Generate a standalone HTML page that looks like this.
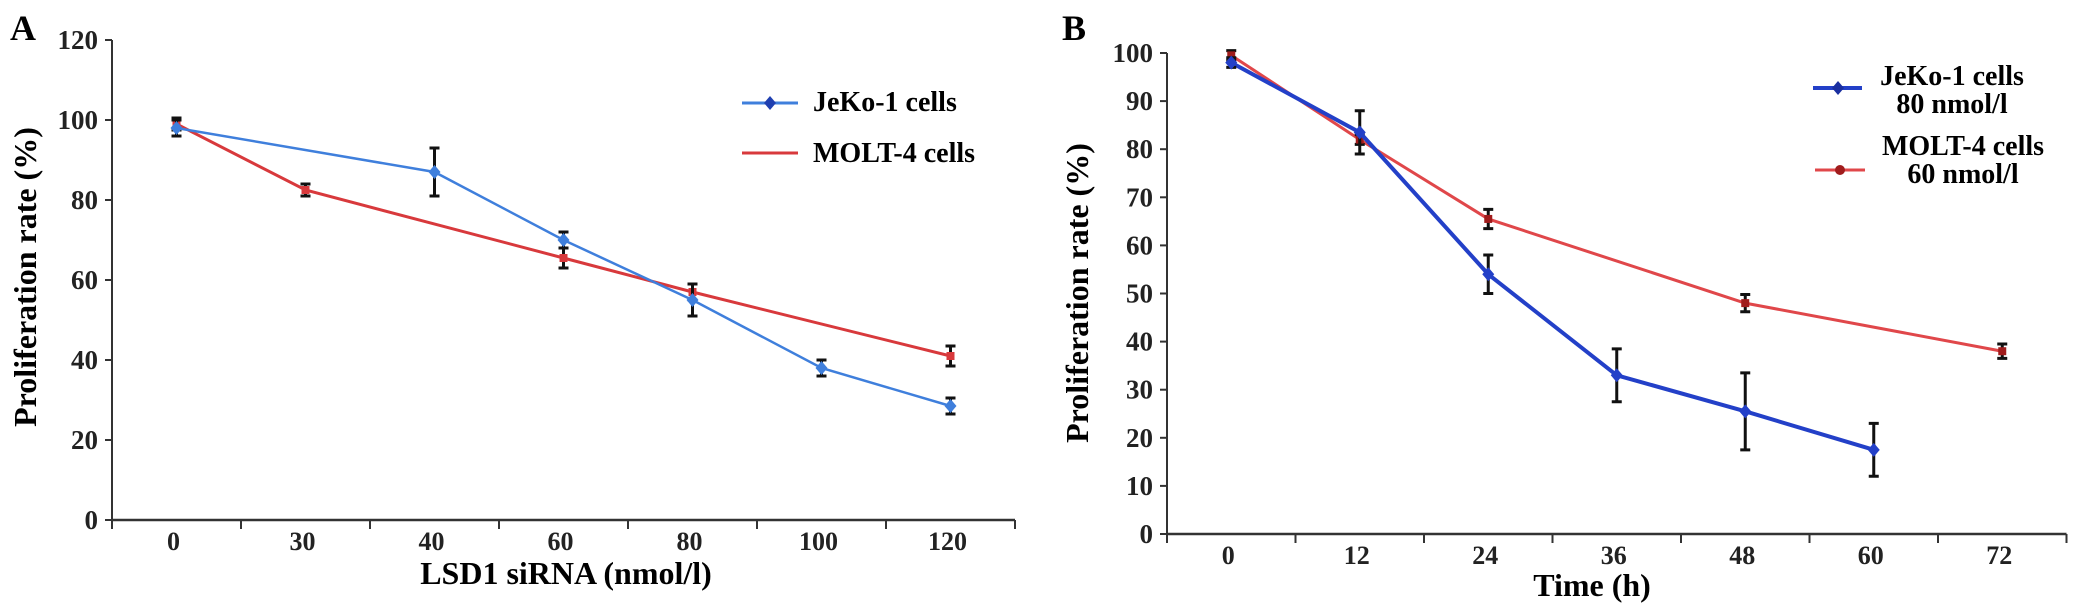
<!DOCTYPE html>
<html><head><meta charset="utf-8"><style>
html,body{margin:0;padding:0;background:#fff;}
svg{display:block;font-family:"Liberation Serif",serif;font-weight:bold;}
</style></head><body>
<svg id="fig" width="2087" height="613" viewBox="0 0 2087 613" xmlns="http://www.w3.org/2000/svg" style="position:absolute;left:0;top:0"></svg>
<script>
// Panel A data
const aCats = ["0","30","40","60","80","100","120"];
const aYTicks = [0,20,40,60,80,100,120];
const aJekoIdx = [0,2,3,4,5,6];
const aJekoVal = [98,87,70,55,38,28.5];
const aJekoErr = [2,6,2,4,2,2];
const aMoltIdx = [0,1,3,4,6];
const aMoltVal = [99,82.5,65.5,57,41];
const aMoltErr = [1.5,1.5,2.5,2,2.5];
// Panel B data
const bCats = ["0","12","24","36","48","60","72"];
const bYTicks = [0,10,20,30,40,50,60,70,80,90,100];
const bJekoIdx = [0,1,2,3,4,5];
const bJekoVal = [98,83.5,54,33,25.5,17.5];
const bJekoErr = [1,4.5,4,5.5,8,5.5];
const bMoltIdx = [0,1,2,4,6];
const bMoltVal = [99.5,82,65.5,48,38];
const bMoltErr = [1,1,2,1.8,1.5];

const NS="http://www.w3.org/2000/svg";
const svg=document.getElementById('fig');
function mk(tag,attrs,parent){const e=document.createElementNS(NS,tag);for(const k in attrs)e.setAttribute(k,attrs[k]);(parent||svg).appendChild(e);return e;}

function panel(cfg){
  const g=mk('g',{});
  
  
  const X=i=>cfg.x0+cfg.step*(i+0.5);
  const Y=v=>cfg.y0-(v/cfg.ymax)*(cfg.y0-cfg.ytop);
  const ax='#333';
  const yl=mk('line',{x1:cfg.x0,y1:Y(cfg.ymax),x2:cfg.x0,y2:cfg.y0,stroke:ax,'stroke-width':2},g);
  
  
  const xl=mk('line',{x1:cfg.x0,y1:cfg.y0,x2:cfg.x0+cfg.step*cfg.cats.length,y2:cfg.y0,stroke:ax,'stroke-width':2.5},g);
  
  
  cfg.yticks.forEach(v=>{
    mk('line',{x1:cfg.x0-7,y1:Y(v),x2:cfg.x0,y2:Y(v),stroke:ax,'stroke-width':2},g);
    const t=mk('text',{x:cfg.x0-14,y:Y(v)+9,'text-anchor':'end','font-size':27,fill:'#222'},g);
    t.textContent=v;
    
    
  });
  for(let i=0;i<=cfg.cats.length;i++){
    const tx=cfg.x0+cfg.step*i;
    mk('line',{x1:tx,y1:cfg.y0,x2:tx,y2:cfg.y0+9,stroke:ax,'stroke-width':2},g);
  }
  cfg.cats.forEach((c,i)=>{
    const t=mk('text',{x:X(i)-3,y:cfg.y0+30,'text-anchor':'middle','font-size':26,fill:'#222'},g);
    t.textContent=c;
    
    
  });
  cfg.series.forEach(s=>{
    const pts=s.idx.map((ci,k)=>X(ci)+','+Y(s.val[k])).join(' ');
    const pl=mk('polyline',{points:pts,fill:'none',stroke:s.color,'stroke-width':s.w},g);
    
    
    s.idx.forEach((ci,k)=>{
      const x=X(ci),v=s.val[k],e=s.err[k];
      const eb=mk('path',{d:`M${x},${Y(v+e)}V${Y(v-e)}M${x-5},${Y(v+e)}H${x+5}M${x-5},${Y(v-e)}H${x+5}`,stroke:'#111','stroke-width':3,fill:'none'},g);
      
      
      const m=s.marker==='diamond'
        ? mk('path',{d:`M${x},${Y(v)-7}L${x+6},${Y(v)}L${x},${Y(v)+7}L${x-6},${Y(v)}Z`,fill:s.color},g)
        : mk('rect',{x:x-4,y:Y(v)-4,width:8,height:8,fill:s.mcolor||s.color},g);
      
      
    });
  });
  return g;
}

panel({name:'panel-a',x0:112,step:129,y0:520,ytop:40,ymax:120,yticks:aYTicks,cats:aCats,
  series:[
    {name:'molt4',idx:aMoltIdx,val:aMoltVal,err:aMoltErr,color:'#d8393c',w:3,marker:'square'},
    {name:'jeko1',idx:aJekoIdx,val:aJekoVal,err:aJekoErr,color:'#3f7fdc',w:2.5,marker:'diamond'}
  ]});
panel({name:'panel-b',x0:1167,step:128.5,y0:534,ytop:53,ymax:100,yticks:bYTicks,cats:bCats,
  series:[
    {name:'molt4',idx:bMoltIdx,val:bMoltVal,err:bMoltErr,color:'#e0474a',w:3,marker:'square',mcolor:'#a01c1c'},
    {name:'jeko1',idx:bJekoIdx,val:bJekoVal,err:bJekoErr,color:'#2340c8',w:4,marker:'diamond'}
  ]});
</script>
<svg width="2087" height="613" style="position:absolute;left:0;top:0;pointer-events:none" xmlns="http://www.w3.org/2000/svg">
  <text x="10" y="40" font-size="36" font-weight="bold" font-family="Liberation Serif, serif">A</text>
  <text x="1062" y="40" font-size="36" font-weight="bold" font-family="Liberation Serif, serif">B</text>
  <text x="566" y="584" text-anchor="middle" font-size="32" font-weight="bold" font-family="Liberation Serif, serif">LSD1 siRNA (nmol/l)</text>
  <text transform="translate(36,277) rotate(-90)" text-anchor="middle" font-size="32" font-weight="bold" font-family="Liberation Serif, serif">Proliferation rate (%)</text>
  <text x="1592" y="596" text-anchor="middle" font-size="32" font-weight="bold" font-family="Liberation Serif, serif">Time (h)</text>
  <text transform="translate(1088,293) rotate(-90)" text-anchor="middle" font-size="32" font-weight="bold" font-family="Liberation Serif, serif">Proliferation rate (%)</text>
  <g font-family="Liberation Serif, serif" font-weight="bold" font-size="28">
    <line x1="742" y1="103" x2="798" y2="103" stroke="#3f7fdc" stroke-width="3"/>
    <path d="M770,96L776,103L770,110L764,103Z" fill="#1f3fb0"/>
    <text x="813" y="111">JeKo-1 cells</text>
    <line x1="742" y1="153" x2="798" y2="153" stroke="#d8393c" stroke-width="3"/>
    <text x="813" y="162">MOLT-4 cells</text>
  </g>
  <g font-family="Liberation Serif, serif" font-weight="bold" font-size="28" text-anchor="middle">
    <line x1="1813" y1="88" x2="1862" y2="88" stroke="#2340c8" stroke-width="4"/>
    <path d="M1838,81L1844,88L1838,95L1832,88Z" fill="#1a2fa0"/>
    <text x="1952" y="85">JeKo-1 cells</text>
    <text x="1952" y="113">80 nmol/l</text>
    <line x1="1815" y1="170" x2="1865" y2="170" stroke="#e0474a" stroke-width="3"/>
    <circle cx="1840" cy="170" r="5" fill="#a01c1c"/>
    <text x="1963" y="155">MOLT-4 cells</text>
    <text x="1963" y="183">60 nmol/l</text>
  </g>
</svg>
</body></html>
